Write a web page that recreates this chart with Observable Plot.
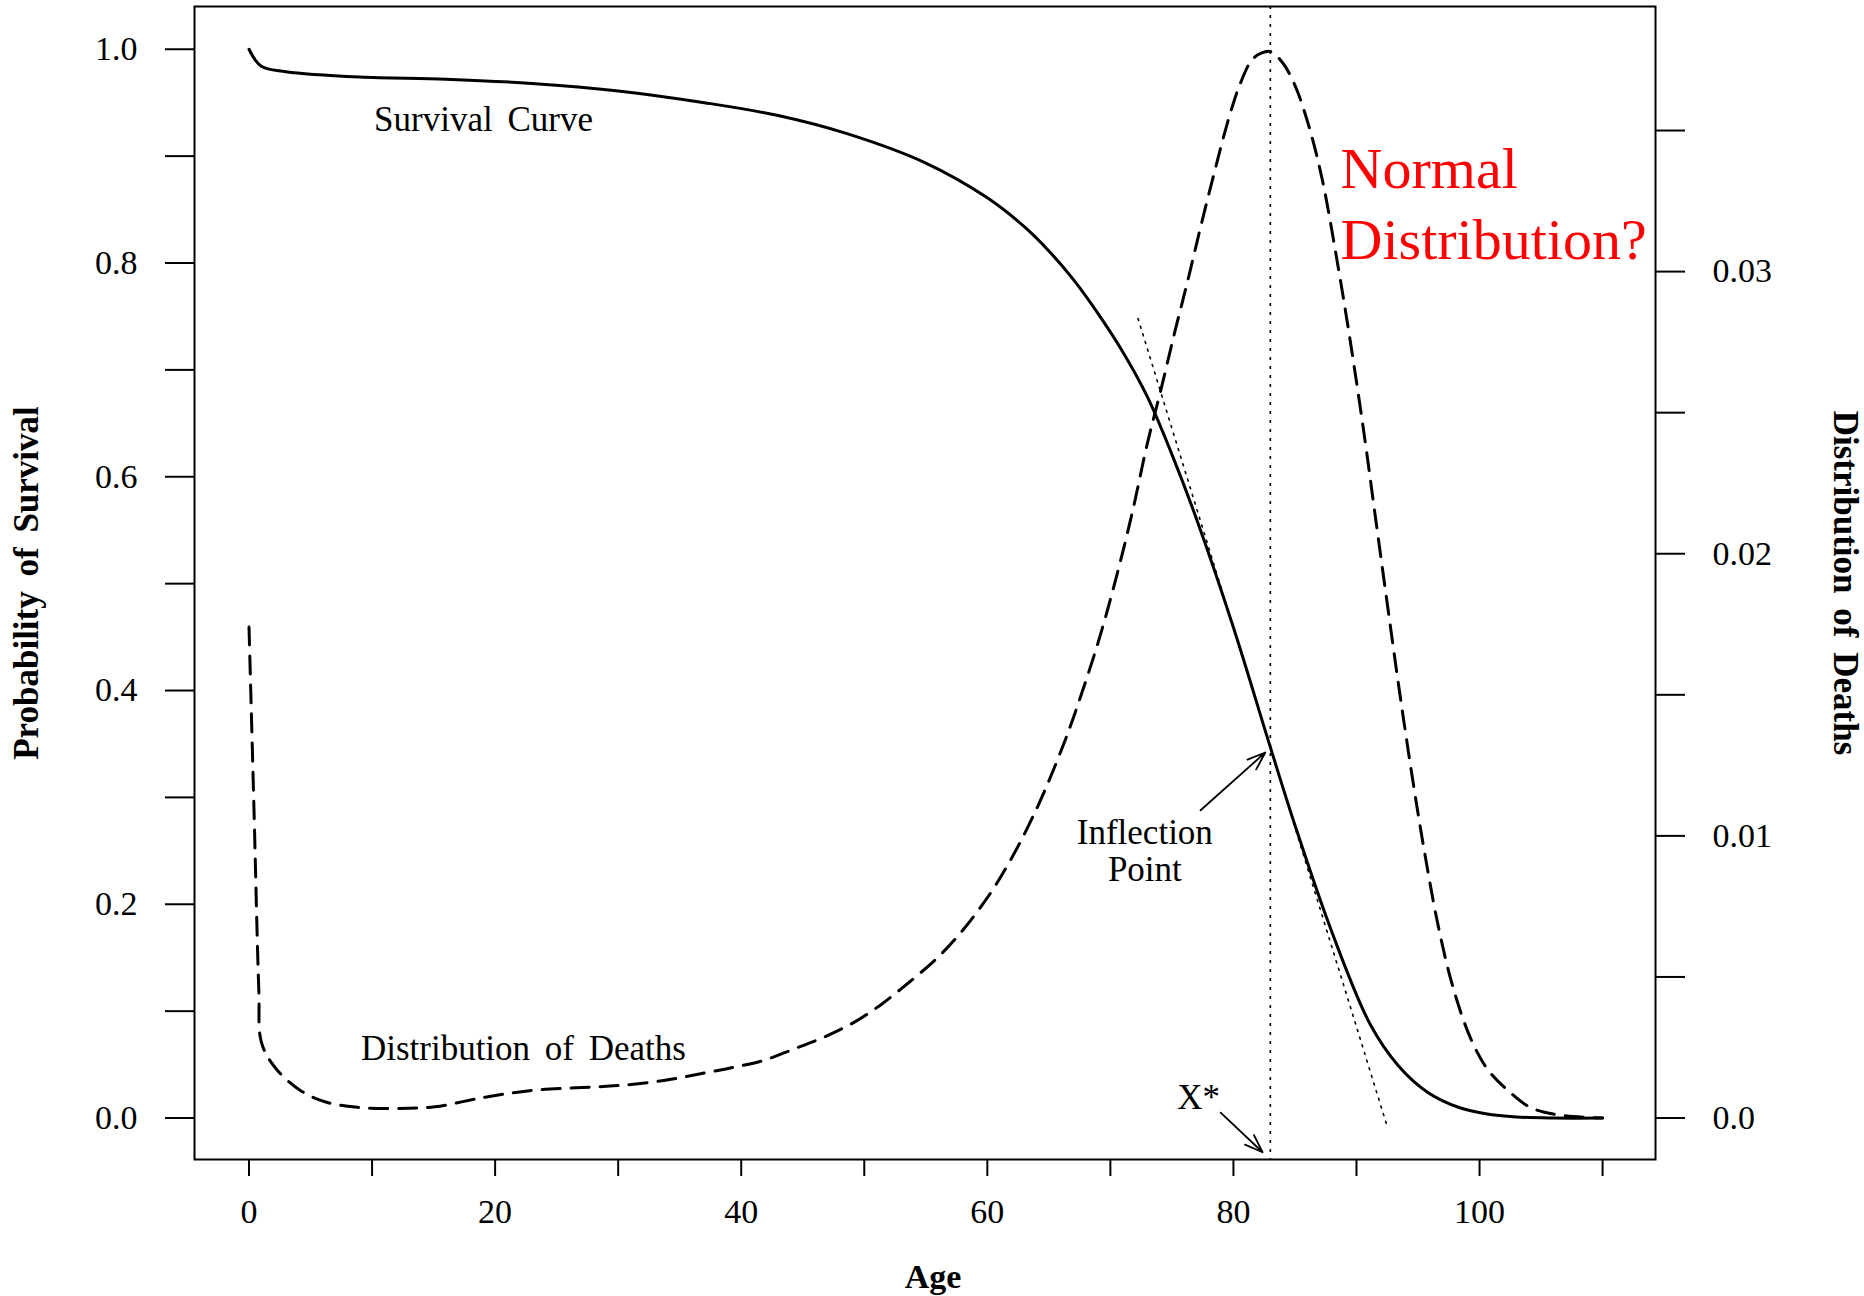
<!DOCTYPE html>
<html><head><meta charset="utf-8">
<script src="https://cdn.jsdelivr.net/npm/d3@7"></script>
<script src="https://cdn.jsdelivr.net/npm/@observablehq/plot@0.6"></script>
<style>
html,body{margin:0;padding:0;background:#fff;}
#chart svg{display:block;}
#chart svg text{word-spacing:6px;}
</style>
</head><body><div id="chart"></div>
<script>
// Survival curve (left axis)
const survivalAge  = [0, 1, 3, 9, 16, 23, 30, 37, 43, 48.6, 55, 60, 63, 65, 67, 69, 71, 73, 75, 77, 80, 83, 85, 88, 91.1, 93.4, 95.8, 98.4, 100.5, 103, 106, 110];
const survivalProb = [1.0, 0.984, 0.979, 0.974, 0.972, 0.968, 0.961, 0.950, 0.938, 0.921, 0.8935, 0.861, 0.834, 0.8113, 0.7844, 0.7526, 0.717, 0.675, 0.621, 0.5605, 0.459, 0.347, 0.274, 0.174, 0.088, 0.049, 0.024, 0.0096, 0.004, 0.001, 0, 0];

// Distribution of deaths (right axis)
const deathAge = [0, 0.4, 0.8, 1.0, 2.1, 4.2, 6.3, 8.8, 11.9, 15.1, 19.2, 22.8, 26.5, 30.0, 33.7, 36.7, 39.4, 41.8, 44.3, 46.7, 49.2, 51.3, 53.5, 55.7, 57.3, 58.9, 60.3, 61.3, 62.7, 64.1, 65.1, 66.2, 67.0, 69.0, 70.5, 71.8, 73.0, 74.1, 75.2, 76.3, 77.4, 78.5, 79.6, 80.5, 81.5, 82.3, 83.0, 84.0, 85.0, 86.1, 87.2, 88.3, 89.4, 90.6, 91.6, 92.7, 93.6, 94.6, 95.5, 96.6, 97.8, 99.3, 100.7, 102.5, 104.2, 106.6, 110];
const deathDensity = [0.0174, 0.0110, 0.0045, 0.0027, 0.0018, 0.00097, 0.00056, 0.00038, 0.00034, 0.00040, 0.00074, 0.00097, 0.00107, 0.00115, 0.00133, 0.00157, 0.0018, 0.00204, 0.00245, 0.00286, 0.0034, 0.0040, 0.00476, 0.00558, 0.0063, 0.00715, 0.0080, 0.0087, 0.0098, 0.01105, 0.01205, 0.01325, 0.0142, 0.01685, 0.0192, 0.0215, 0.0239, 0.0258, 0.0278, 0.0297, 0.0317, 0.0336, 0.0354, 0.0366, 0.0375, 0.03775, 0.0378, 0.0374, 0.0366, 0.0352, 0.0333, 0.0307, 0.0278, 0.0243, 0.0211, 0.0176, 0.0148, 0.0119, 0.0095, 0.0069, 0.0047, 0.0028, 0.0017, 0.0009, 0.00036, 0.0001, 0];

// Reference lines
const xStar = [83];
const tangentAge  = [72.25, 92.42];
const tangentProb = [0.748, -0.005];

// Axes ticks and labels
const leftTickValues  = [0, 0.1, 0.2, 0.3, 0.4, 0.5, 0.6, 0.7, 0.8, 0.9, 1.0];
const leftTickLabels  = ["0.0", "", "0.2", "", "0.4", "", "0.6", "", "0.8", "", "1.0"];
const rightTickValues = [0, 0.005, 0.01, 0.015, 0.02, 0.025, 0.03, 0.035];
const rightTickLabels = ["0.0", "", "0.01", "", "0.02", "", "0.03", ""];
const ageTickValues   = [0, 10, 20, 30, 40, 50, 60, 70, 80, 90, 100, 110];
const ageTickLabels   = ["0", "", "20", "", "40", "", "60", "", "80", "", "100", ""];

// Text annotations
const annoText = ["Survival Curve", "Distribution of Deaths", "Inflection\nPoint", "X*"];
const annoAge  = [19.06, 22.3, 72.8, 77.17];
const annoProb = [0.935, 0.065, 0.250, 0.020];
const noteText = ["Normal\nDistribution?"];
const noteAge  = [88.71];
const noteProb = [0.8586];

// Arrows
const arrowFromAge  = [77.33, 78.96];
const arrowFromProb = [0.288, 0.005];
const arrowToAge    = [82.59, 82.37];
const arrowToProb   = [0.342, -0.032];

// Ratio between the right (deaths) axis unit and the left (survival) axis unit
const k = 0.03788;

const survival = survivalAge.map((a, i) => ({age: a, p: survivalProb[i]}));
const deaths = deathAge.map((a, i) => ({age: a, d: deathDensity[i]}));
const tangent = tangentAge.map((a, i) => ({age: a, p: tangentProb[i]}));
const annos = annoText.map((t, i) => ({t, age: annoAge[i], p: annoProb[i]}));
const notes = noteText.map((t, i) => ({t, age: noteAge[i], p: noteProb[i]}));
const arrows = arrowFromAge.map((a, i) => ({x1: a, y1: arrowFromProb[i], x2: arrowToAge[i], y2: arrowToProb[i]}));
const rightPositions = rightTickValues.map(r => r / k);

const chart = Plot.plot({
  width: 1864, height: 1296,
  marginLeft: 194, marginRight: 209, marginTop: 6, marginBottom: 137,
  x: {domain: [-4.43, 114.3]},
  y: {domain: [-0.0388, 1.040]},
  style: {fontFamily: "'Liberation Serif', 'Times New Roman', serif", fontSize: "34px", color: "black", background: "white", overflow: "visible"},
  marks: [
    Plot.frame({stroke: "black", strokeWidth: 2}),
    Plot.axisY({anchor: "left", ticks: leftTickValues, tickFormat: v => leftTickLabels[leftTickValues.indexOf(v)], tickSize: 29, tickPadding: 28, strokeWidth: 2, fontSize: 34, label: null}),
    Plot.axisY({anchor: "right", ticks: rightPositions, tickFormat: v => rightTickLabels[rightPositions.indexOf(v)], tickSize: 29, tickPadding: 28, strokeWidth: 2, fontSize: 34, label: null}),
    Plot.axisX({anchor: "bottom", ticks: ageTickValues, tickFormat: v => ageTickLabels[ageTickValues.indexOf(v)], tickSize: 17, tickPadding: 22, strokeWidth: 2, fontSize: 34, label: null}),
    Plot.ruleX(xStar, {stroke: "black", strokeWidth: 1.6, strokeDasharray: "3,6"}),
    Plot.line(tangent, {x: "age", y: "p", stroke: "black", strokeWidth: 1.6, strokeDasharray: "2,6"}),
    Plot.line(survival, {x: "age", y: "p", stroke: "black", strokeWidth: 3, curve: "catmull-rom"}),
    Plot.line(deaths, {x: "age", y: d => d.d / k, stroke: "black", strokeWidth: 3, strokeDasharray: "18,11", curve: "catmull-rom"}),
    Plot.arrow(arrows, {x1: "x1", y1: "y1", x2: "x2", y2: "y2", stroke: "black", strokeWidth: 1.8, headLength: 16, headAngle: 40}),
    Plot.text(annos, {x: "age", y: "p", text: "t", fontSize: 35, textAnchor: "middle", lineAnchor: "middle", lineHeight: 1.06, fill: "black"}),
    Plot.text(notes, {x: "age", y: "p", text: "t", fontSize: 58, textAnchor: "start", lineAnchor: "middle", lineHeight: 1.233, fill: "#ff0000"}),
    Plot.text(["Probability of Survival"], {text: d => d, frameAnchor: "left", dx: -168, rotate: -90, textAnchor: "middle", lineAnchor: "middle", fontWeight: "bold", fontSize: 35}),
    Plot.text(["Distribution of Deaths"], {text: d => d, frameAnchor: "right", dx: 190, rotate: 90, textAnchor: "middle", lineAnchor: "middle", fontWeight: "bold", fontSize: 35}),
    Plot.text(["Age"], {text: d => d, frameAnchor: "bottom", dx: 8, dy: 118, textAnchor: "middle", lineAnchor: "middle", fontWeight: "bold", fontSize: 34})
  ]
});
document.getElementById("chart").appendChild(chart);
</script>
</body></html>
